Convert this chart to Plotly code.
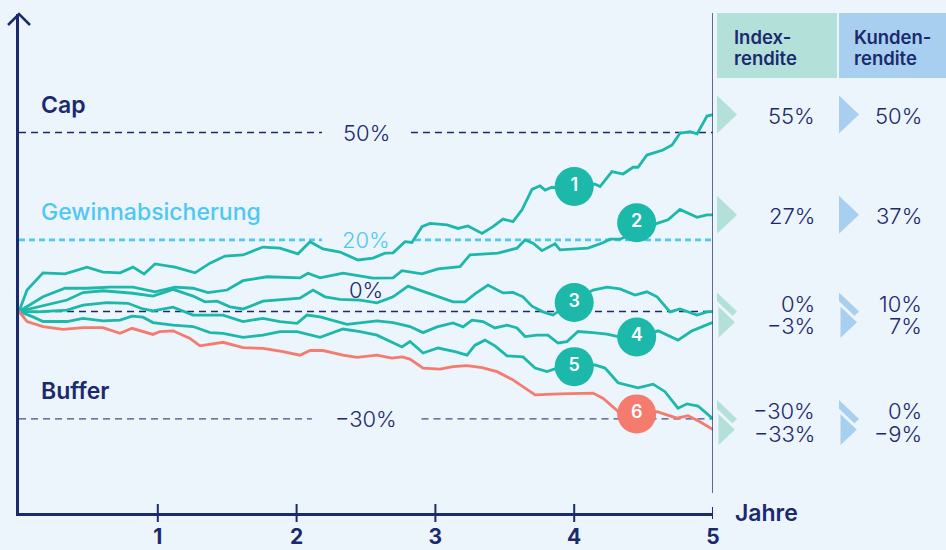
import plotly.graph_objects as go

# ---------------- colours ----------------
BG = "#ecf4fc"
NAVY = "#1a2a6c"
TEAL = "#1cb8aa"
SALMON = "#f47b6d"
LIGHTBLUE = "#4fc7f4"
MINT = "#b3e1da"
SKY = "#a9cff0"
FONT = "Inter"

# ---------------- data (years, index return in %) ----------------
years_1 = [0, 0.058, 0.173, 0.331, 0.490, 0.605, 0.728, 0.821, 0.901, 0.980, 1.124, 1.268, 1.376, 1.484,
           1.614, 1.758, 1.880, 2.010, 2.097, 2.190, 2.313, 2.442, 2.550, 2.637, 2.695, 2.781, 2.831,
           2.903, 2.961, 3.084, 3.163, 3.235, 3.336, 3.415, 3.487, 3.559, 3.624, 3.696, 3.754, 3.790,
           3.840, 3.876, 4.006, 4.150, 4.186, 4.272, 4.352, 4.424, 4.460, 4.524, 4.640, 4.705, 4.762,
           4.834, 4.885, 4.957, 5.0]
pct_1 = [0, 6.0, 10.8, 10.5, 12.4, 11.0, 10.8, 12.4, 10.5, 13.3, 12.4, 10.8, 13.5, 15.5,
         15.8, 18.0, 17.7, 16.1, 19.5, 17.5, 16.6, 14.4, 14.9, 16.3, 16.4, 19.5, 19.3,
         23.7, 24.6, 24.2, 23.2, 23.9, 21.8, 23.7, 25.8, 25.1, 28.4, 34.1, 35.1, 33.9,
         34.7, 34.5, 35.3, 35.6, 34.9, 39.1, 38.4, 40.3, 40.3, 43.7, 45.1, 46.5, 49.8,
         50.2, 49.6, 54.6, 55]

years_2 = [0, 0.173, 0.331, 0.490, 0.656, 0.821, 0.980, 1.124, 1.254, 1.362, 1.499, 1.614, 1.787, 2.024,
           2.082, 2.169, 2.334, 2.550, 2.695, 2.759, 2.903, 3.019, 3.177, 3.249, 3.451, 3.588, 3.646,
           3.703, 3.768, 3.862, 3.898, 4.099, 4.207, 4.258, 4.330, 4.452, 4.597, 4.676, 4.762, 4.885,
           4.957, 5.0]
pct_2 = [0, 4.1, 6.5, 6.5, 6.8, 6.8, 5.5, 6.8, 6.5, 5.3, 6.0, 8.6, 9.7, 9.4,
         10.7, 9.4, 10.7, 9.3, 9.4, 11.4, 10.5, 11.9, 12.5, 15.8, 16.3, 17.7, 20.0,
         19.1, 17.0, 18.9, 17.2, 17.7, 19.2, 20.2, 20.2, 22.2, 24.6, 25.6, 28.5, 26.3,
         27.0, 27]

years_3 = [0, 0.346, 0.461, 0.605, 0.821, 0.965, 1.110, 1.254, 1.340, 1.427, 1.520, 1.614, 1.758, 1.880,
           2.024, 2.118, 2.205, 2.313, 2.457, 2.579, 2.695, 2.803, 2.961, 3.127, 3.213, 3.285, 3.379,
           3.487, 3.559, 3.631, 3.696, 3.775, 3.847, 4.006, 4.135, 4.236, 4.330, 4.438, 4.524, 4.597,
           4.690, 4.762, 4.885, 4.957, 5.0]
pct_3 = [0, 3.2, 5.3, 5.8, 5.1, 4.3, 6.2, 4.3, 2.7, 2.9, 1.3, 0.7, 2.9, 3.2,
         3.7, 6.0, 4.1, 3.4, 3.2, 2.4, 4.1, 7.1, 4.9, 2.7, 2.7, 4.9, 7.4,
         5.2, 5.3, 4.1, 1.5, -0.1, -1.0, 3.2, 6.0, 6.8, 6.3, 4.6, 5.5, 4.1,
         -0.1, 0.7, -1.0, -0.1, 0]

years_4 = [0, 0.130, 0.346, 0.461, 0.634, 0.785, 0.893, 0.965, 1.110, 1.254, 1.470, 1.614, 1.758, 1.880,
           2.003, 2.075, 2.169, 2.363, 2.579, 2.695, 2.817, 2.911, 3.012, 3.127, 3.199, 3.264, 3.343,
           3.429, 3.516, 3.588, 3.646, 3.732, 3.811, 3.883, 3.948, 4.027, 4.135, 4.236, 4.316, 4.452,
           4.604, 4.748, 4.849, 4.942, 5.0]
pct_4 = [0, -0.1, 0.4, 1.8, 2.5, 2.3, 0.7, 0.2, 1.2, -1.0, -1.0, -2.8, -1.9, -2.8,
         -3.3, -1.0, -1.5, -3.6, -2.6, -3.1, -4.2, -5.9, -4.3, -3.2, -4.3, -2.4, -2.8,
         -4.6, -3.8, -4.6, -7.0, -6.6, -6.6, -8.8, -8.4, -5.6, -5.9, -6.3, -7.0, -7.4,
         -5.4, -8.0, -5.4, -3.8, -3]

years_5 = [0, 0.101, 0.173, 0.346, 0.461, 0.605, 0.728, 0.814, 0.893, 0.965, 1.110, 1.254, 1.376, 1.470,
           1.614, 1.758, 1.880, 2.003, 2.169, 2.334, 2.457, 2.579, 2.759, 2.817, 2.911, 3.019, 3.141,
           3.228, 3.285, 3.357, 3.429, 3.516, 3.631, 3.718, 3.804, 3.876, 4.006, 4.150, 4.222, 4.316,
           4.460, 4.568, 4.654, 4.748, 4.813, 4.892, 5.0]
pct_5 = [0, -1.5, -2.8, -2.8, -1.9, -2.6, -2.4, -1.3, -1.6, -3.1, -3.8, -4.2, -5.9, -6.1,
         -7.2, -6.6, -5.6, -5.6, -7.2, -4.9, -5.6, -6.6, -9.9, -8.4, -11.6, -10.2, -11.2,
         -12.2, -9.4, -8.0, -9.6, -12.4, -12.7, -15.8, -16.8, -15.8, -15.2, -14.9, -15.8, -19.9,
         -21.3, -20.3, -22.4, -27.0, -25.8, -26.4, -30]

years_6 = [0, 0.058, 0.173, 0.317, 0.461, 0.605, 0.728, 0.814, 0.965, 1.016, 1.110, 1.232, 1.304, 1.470,
           1.614, 1.758, 1.902, 2.024, 2.097, 2.190, 2.334, 2.435, 2.579, 2.687, 2.759, 2.817, 2.911,
           3.033, 3.127, 3.228, 3.336, 3.444, 3.559, 3.646, 3.718, 3.898, 4.135, 4.207, 4.330, 4.450,
           4.597, 4.741, 4.820, 4.906, 5.0]
pct_6 = [0, -2.8, -4.2, -5.0, -4.5, -4.5, -6.1, -4.7, -6.4, -5.6, -5.4, -7.5, -9.6, -8.6,
         -10.1, -10.3, -11.2, -12.2, -10.9, -10.9, -12.2, -12.8, -12.2, -13.0, -12.7, -13.3, -15.8,
         -16.1, -15.4, -15.1, -15.7, -16.8, -19.1, -21.4, -23.3, -23.0, -22.8, -24.2, -28.4, -28.4,
         -28.0, -29.8, -29.1, -30.8, -33]

series_years = [years_1, years_2, years_3, years_4, years_5, years_6]
series_pct = [pct_1, pct_2, pct_3, pct_4, pct_5, pct_6]
series_colors = [TEAL, TEAL, TEAL, TEAL, TEAL, SALMON]

badge_labels = ["1", "2", "3", "4", "5", "6"]
badge_years = [4.0, 4.45, 4.0, 4.45, 4.0, 4.45]
badge_pct = [34.9, 24.8, 2.5, -7.1, -15.4, -28.6]

index_returns = [55, 27, 0, -3, -30, -33]
client_returns = [50, 37, 10, 7, 0, -9]

cap_level = 50
lock_level = 20
zero_level = 0
buffer_level = -30

x_ticks = [1, 2, 3, 4, 5]
x_ticktext = ["1", "2", "3", "4", "5"]

# ---------------- figure ----------------
W, H = 946, 550
ML, MR, MT, MB = 19, 233, 14, 37
PW = W - ML - MR
PH = H - MT - MB


def px_to_paper_x(px):
    return (px - ML) / PW


def px_to_paper_y(py):
    return (H - MB - py) / PH


def fmt(v):
    return ("−" if v < 0 else "") + f"{abs(v)}%"


fig = go.Figure()

for xs, ys, col in zip(series_years, series_pct, series_colors):
    fig.add_trace(go.Scatter(x=xs, y=ys, mode="lines",
                             line=dict(color=col, width=2.8),
                             hoverinfo="skip", showlegend=False))

fig.add_trace(go.Scatter(
    x=badge_years, y=badge_pct, mode="markers+text",
    marker=dict(size=39, color=[TEAL] * 5 + [SALMON], line=dict(width=0)),
    text=badge_labels, textposition="middle center",
    textfont=dict(color="white", size=18, family=FONT, weight=600),
    hoverinfo="skip", showlegend=False, cliponaxis=False))

shapes = []
annotations = []


def hline(y, x0, x1, color, width, dash):
    shapes.append(dict(type="line", xref="x", yref="y", x0=x0, x1=x1, y0=y, y1=y,
                       line=dict(color=color, width=width, dash=dash), layer="below"))


hline(cap_level, 0, 2.183, NAVY, 1.4, "7px,5px")
hline(cap_level, 2.824, 5, NAVY, 1.4, "7px,5px")
hline(lock_level, 0, 2.183, LIGHTBLUE, 2.6, "6px,4px")
hline(lock_level, 2.853, 5, LIGHTBLUE, 2.6, "6px,4px")
hline(zero_level, 0, 5, NAVY, 1.4, "7px,5px")
hline(buffer_level, 0, 2.11, "#3f4f86", 1.4, "7px,5px")
hline(buffer_level, 2.90, 5, "#3f4f86", 1.4, "7px,5px")

for y, txt, col, ys in [(cap_level, fmt(cap_level), NAVY, 0), (lock_level, fmt(lock_level), LIGHTBLUE, 0),
                        (zero_level, fmt(zero_level), NAVY, 22), (buffer_level, fmt(buffer_level), NAVY, 0)]:
    annotations.append(dict(x=2.5, y=y, xref="x", yref="y", text=txt, showarrow=False,
                            yshift=ys, xanchor="center", yanchor="middle",
                            font=dict(family=FONT, size=22, color=col, weight=300)))

for y, txt, col, wgt in [(cap_level, "Cap", NAVY, 600), (lock_level, "Gewinnabsicherung", LIGHTBLUE, 500),
                         (buffer_level, "Buffer", NAVY, 600)]:
    annotations.append(dict(x=px_to_paper_x(39), y=y, xref="paper", yref="y", text=txt, showarrow=False,
                            yshift=28, xanchor="left", yanchor="middle",
                            font=dict(family=FONT, size=23, color=col, weight=wgt)))

for t in x_ticks:
    half = 6 if t == 5 else 9
    shapes.append(dict(type="line", xref="x", yref="paper", ysizemode="pixel", yanchor=0,
                       x0=t, x1=t, y0=-half, y1=half, line=dict(color=NAVY, width=2)))

shapes.append(dict(type="path", xref="paper", yref="paper", xsizemode="pixel", ysizemode="pixel",
                   xanchor=0, yanchor=1, path="M-11,-11 L0,0 L11,-11",
                   line=dict(color=NAVY, width=2.5)))

shapes.append(dict(type="line", xref="x", yref="paper", x0=5, x1=5,
                   y0=px_to_paper_y(493), y1=px_to_paper_y(13),
                   line=dict(color="#2d3d76", width=1.5)))

shapes.append(dict(type="rect", xref="paper", yref="paper", x0=px_to_paper_x(717), x1=px_to_paper_x(837),
                   y0=px_to_paper_y(78), y1=px_to_paper_y(13), fillcolor=MINT, line=dict(width=0)))
shapes.append(dict(type="rect", xref="paper", yref="paper", x0=px_to_paper_x(839), x1=px_to_paper_x(950),
                   y0=px_to_paper_y(78), y1=px_to_paper_y(13), fillcolor=SKY, line=dict(width=0)))
for hx, lines in [(732, ["Index-", "rendite"]), (852, ["Kunden-", "rendite"])]:
    for ly, txt in zip([37, 58], lines):
        annotations.append(dict(x=px_to_paper_x(hx), y=px_to_paper_y(ly), xref="paper", yref="paper",
                                text=txt, showarrow=False, xanchor="left", yanchor="middle", align="left",
                                font=dict(family=FONT, size=18.5, color=NAVY, weight=600)))

for i, (ir, cr) in enumerate(zip(index_returns, client_returns)):
    lower_of_pair = i > 0 and abs(index_returns[i - 1] - ir) < 5
    upper_of_pair = i < len(index_returns) - 1 and abs(index_returns[i + 1] - ir) < 5
    for ax_px, col in [(717, MINT), (839, SKY)]:
        shapes.append(dict(type="path", xref="paper", yref="y", xsizemode="pixel", ysizemode="pixel",
                           xanchor=px_to_paper_x(ax_px), yanchor=ir, path="M0,-19 L20,0 L0,19 Z",
                           fillcolor=col,
                           line=dict(color=BG if lower_of_pair else col, width=3 if lower_of_pair else 0)))
    ys = 8 if upper_of_pair else (-4 if lower_of_pair else -1)
    for rx, val in [(817, ir), (924, cr)]:
        annotations.append(dict(x=px_to_paper_x(rx), y=ir, xref="paper", yref="y", text=fmt(val),
                                showarrow=False, xanchor="right", yanchor="middle", yshift=ys,
                                font=dict(family=FONT, size=22, color=NAVY, weight=300)))

annotations.append(dict(x=px_to_paper_x(733), y=0, xref="paper", yref="paper", text="Jahre",
                        showarrow=False, xanchor="left", yanchor="middle",
                        font=dict(family=FONT, size=23, color=NAVY, weight=600)))

fig.update_layout(
    width=W, height=H, autosize=False,
    margin=dict(l=ML, r=MR, t=MT, b=MB, pad=0),
    paper_bgcolor=BG, plot_bgcolor=BG,
    shapes=shapes, annotations=annotations, showlegend=False,
    xaxis=dict(range=[0, 5], showline=True, linecolor=NAVY, linewidth=2.5, showgrid=False, zeroline=False,
               tickvals=x_ticks, ticktext=x_ticktext, ticks="", ticklabelstandoff=3, automargin=False,
               tickfont=dict(family=FONT, size=21, color=NAVY, weight=700), fixedrange=True),
    yaxis=dict(range=[(311.5 - (H - MB)) / 3.58, (311.5 - MT) / 3.58], showline=True, linecolor=NAVY,
               linewidth=2.5, showgrid=False, zeroline=False, showticklabels=False, ticks="",
               automargin=False, fixedrange=True),
)

page_fix = (
    "document.documentElement.style.margin='0';document.documentElement.style.overflow='hidden';"
    "document.body.style.margin='0';document.body.style.padding='0';document.body.style.overflow='hidden';"
    "document.body.style.background='" + BG + "';"
    "Plotly.relayout('{plot_id}', {width: " + str(W) + ", height: " + str(H) + "});"
)

fig.write_html("out.html", config={"responsive": False, "displayModeBar": False}, post_script=page_fix)
